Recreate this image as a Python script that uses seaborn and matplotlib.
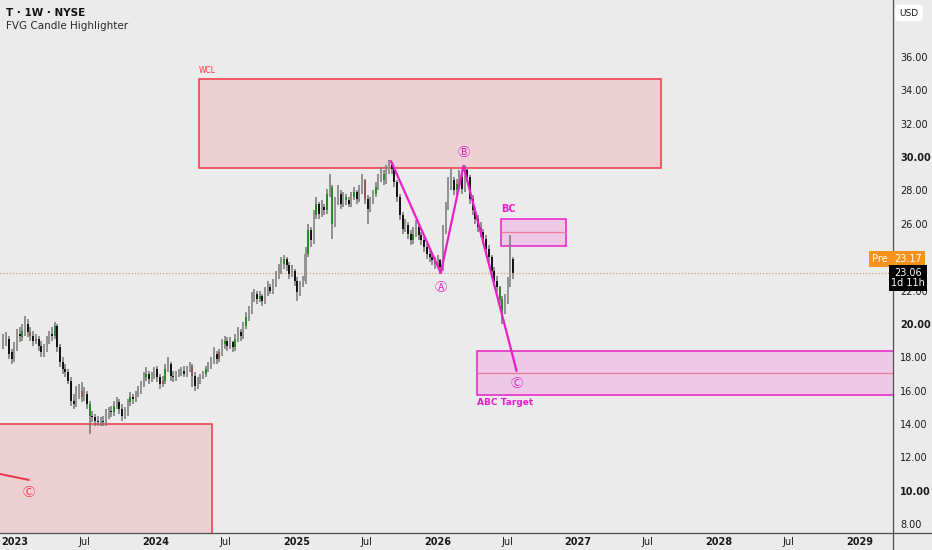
import numpy as np
import pandas as pd
import matplotlib
matplotlib.use("Agg")
import matplotlib.pyplot as plt
import matplotlib.dates as mdates
from matplotlib.patches import Rectangle
import seaborn as sns

# weekly candles, T 1W
start_week = "2022-12-02"
opens = [18.8, 19.0, 19.1, 18.3, 17.9, 18.6, 19.4, 19.2, 19.6, 20.0,
         19.5, 19.3, 19.0, 19.1, 18.7, 18.3, 18.5, 19.0, 19.4, 19.3,
         19.9, 18.6, 17.7, 17.3, 17.1, 16.6, 15.4, 15.2, 15.8, 16.0,
         15.6, 15.8, 15.2, 14.5, 14.4, 14.2, 14.1, 14.2, 14.1, 14.5,
         14.8, 14.7, 15.1, 15.3, 14.9, 14.5, 14.7, 15.3, 15.6, 15.5,
         15.8, 16.0, 16.4, 16.8, 17.0, 16.7, 16.9, 17.3, 16.8, 16.4,
         16.6, 17.3, 17.6, 16.9, 16.8, 17.0, 17.1, 17.2, 17.0, 17.3,
         17.5, 16.9, 16.3, 16.6, 16.9, 17.0, 17.3, 17.5, 17.8, 18.2,
         17.9, 18.3, 18.8, 19.0, 18.7, 18.9, 18.6, 19.1, 19.5, 19.3,
         19.9, 20.4, 20.8, 21.6, 21.8, 21.5, 21.7, 21.4, 21.9, 22.2,
         22.0, 22.4, 22.9, 23.2, 23.6, 23.9, 23.5, 23.0, 23.2, 22.6,
         21.9, 22.4, 22.6, 24.2, 25.6, 25.0, 26.5, 27.2, 26.6, 27.0,
         26.8, 27.8, 28.2, 26.0, 27.3, 27.8, 27.2, 27.6, 27.4, 27.2,
         27.6, 27.9, 27.5, 28.0, 28.6, 27.5, 26.9, 27.4, 27.8, 28.2,
         28.7, 29.0, 28.6, 29.2, 29.5, 29.3, 28.5, 27.6, 26.5, 25.7,
         25.9, 25.4, 25.0, 25.4, 25.8, 25.3, 25.0, 24.6, 24.2, 24.0,
         23.8, 23.6, 23.8, 23.4, 25.6, 27.0, 28.3, 28.6, 28.0, 28.4,
         28.8, 28.1, 29.2, 28.8, 27.5, 26.8, 26.3, 25.8, 25.5, 25.1,
         24.5, 24.0, 23.2, 22.6, 22.2, 21.5, 20.8, 21.4, 22.4, 23.9]
highs = [19.4, 19.5, 19.3, 18.5, 18.9, 19.7, 19.8, 20.0, 20.5, 20.3,
         19.8, 19.6, 19.4, 19.3, 19.0, 18.8, 19.3, 19.6, 19.8, 20.1,
         20.0, 18.8, 18.0, 17.6, 17.3, 16.8, 15.8, 16.3, 16.4, 16.5,
         16.2, 16.0, 15.4, 14.8, 14.6, 14.5, 14.4, 14.5, 14.9, 15.0,
         15.1, 15.4, 15.6, 15.5, 15.2, 15.0, 15.5, 15.9, 15.8, 16.0,
         16.3, 16.6, 17.1, 17.4, 17.2, 17.1, 17.4, 17.5, 17.0, 16.9,
         17.6, 18.0, 17.7, 17.2, 17.2, 17.3, 17.4, 17.5, 17.5, 17.7,
         17.6, 17.1, 16.8, 17.0, 17.2, 17.5, 17.7, 18.0, 18.6, 18.4,
         18.5, 19.1, 19.3, 19.2, 19.2, 19.0, 19.4, 19.8, 19.7, 20.1,
         20.7, 21.1, 21.9, 22.1, 22.0, 22.0, 21.8, 22.2, 22.6, 22.4,
         22.7, 23.2, 23.6, 24.0, 24.1, 24.0, 23.7, 23.5, 23.3, 22.8,
         22.6, 22.9, 24.6, 26.0, 25.8, 26.8, 27.6, 27.3, 27.4, 27.2,
         28.1, 29.0, 28.3, 27.6, 28.3, 28.0, 27.9, 27.8, 27.6, 27.9,
         28.2, 28.0, 28.3, 29.0, 28.7, 27.7, 27.6, 28.0, 28.5, 29.0,
         29.4, 29.2, 29.5, 29.8, 29.7, 29.4, 28.6, 27.8, 26.7, 26.3,
         26.1, 25.6, 25.8, 26.2, 26.0, 25.5, 25.2, 24.8, 24.4, 24.2,
         24.0, 24.1, 23.9, 25.9, 27.3, 28.8, 29.3, 28.8, 28.7, 29.2,
         28.9, 29.5, 29.3, 28.9, 27.7, 27.0, 26.5, 26.1, 25.7, 25.3,
         24.7, 24.1, 23.4, 22.9, 22.3, 21.7, 21.8, 22.8, 25.3, 24.0]
lows = [18.5, 18.7, 17.9, 17.6, 17.7, 18.4, 18.9, 19.0, 19.3, 19.2,
        19.0, 18.7, 18.8, 18.4, 18.0, 18.0, 18.3, 18.8, 19.0, 19.1,
        18.3, 17.4, 17.0, 16.8, 16.4, 15.1, 14.9, 15.0, 15.5, 15.3,
        15.4, 14.9, 13.4, 14.1, 13.9, 13.9, 13.9, 13.9, 13.9, 14.3,
        14.4, 14.5, 14.9, 14.6, 14.2, 14.3, 14.5, 15.1, 15.2, 15.3,
        15.6, 15.8, 16.2, 16.6, 16.4, 16.5, 16.7, 16.5, 16.1, 16.2,
        16.4, 17.1, 16.6, 16.5, 16.6, 16.8, 16.9, 16.8, 16.8, 17.1,
        16.2, 16.0, 16.1, 16.4, 16.7, 16.8, 17.1, 17.3, 17.6, 17.6,
        17.7, 18.1, 18.5, 18.4, 18.5, 18.3, 18.4, 18.9, 19.0, 19.1,
        19.7, 20.2, 20.6, 21.3, 21.2, 21.3, 21.1, 21.2, 21.7, 21.8,
        21.8, 22.2, 22.7, 23.0, 23.3, 23.2, 22.7, 22.8, 22.3, 21.4,
        21.7, 22.2, 22.4, 24.0, 24.6, 24.8, 26.3, 26.3, 26.4, 26.5,
        26.6, 27.6, 25.1, 25.8, 27.1, 26.9, 27.0, 27.1, 27.0, 27.0,
        27.4, 27.2, 27.3, 27.8, 27.2, 26.0, 26.7, 27.2, 27.6, 28.0,
        28.5, 28.3, 28.4, 29.0, 29.0, 28.2, 27.3, 26.2, 25.4, 25.5,
        25.1, 24.7, 24.8, 25.2, 25.0, 24.7, 24.3, 23.9, 23.7, 23.5,
        23.3, 23.4, 23.0, 23.2, 25.4, 26.8, 28.0, 27.7, 27.8, 28.2,
        27.8, 27.9, 28.5, 27.2, 26.5, 26.0, 25.5, 25.2, 24.8, 24.2,
        23.7, 22.9, 22.3, 21.9, 21.2, 20.0, 20.6, 21.2, 22.2, 22.7]
closes = [19.0, 19.1, 18.2, 17.9, 18.6, 19.4, 19.3, 19.6, 20.0, 19.5,
          19.3, 19.0, 19.1, 18.7, 18.3, 18.5, 19.0, 19.4, 19.3, 19.9,
          18.6, 17.7, 17.3, 17.1, 16.6, 15.4, 15.2, 15.8, 16.0, 15.6,
          15.8, 15.2, 14.5, 14.4, 14.2, 14.1, 14.2, 14.1, 14.5, 14.8,
          14.7, 15.1, 15.3, 14.9, 14.5, 14.7, 15.3, 15.6, 15.5, 15.8,
          16.0, 16.4, 16.8, 17.0, 16.7, 16.9, 17.3, 16.8, 16.4, 16.6,
          17.3, 17.6, 16.9, 16.8, 17.0, 17.1, 17.2, 17.0, 17.3, 17.5,
          16.9, 16.3, 16.6, 16.9, 17.0, 17.3, 17.5, 17.8, 18.2, 17.9,
          18.3, 18.8, 19.0, 18.7, 18.9, 18.6, 19.1, 19.5, 19.3, 19.9,
          20.4, 20.8, 21.6, 21.8, 21.5, 21.7, 21.4, 21.9, 22.2, 22.0,
          22.4, 22.9, 23.2, 23.6, 23.9, 23.5, 23.0, 23.2, 22.6, 21.9,
          22.4, 22.6, 24.2, 25.6, 25.0, 26.5, 27.2, 26.6, 27.0, 26.8,
          27.8, 28.2, 26.0, 27.3, 27.8, 27.2, 27.6, 27.4, 27.2, 27.6,
          27.9, 27.5, 28.0, 28.6, 27.5, 26.9, 27.4, 27.8, 28.2, 28.7,
          29.0, 28.6, 29.2, 29.5, 29.3, 28.5, 27.6, 26.5, 25.7, 25.9,
          25.4, 25.0, 25.4, 25.8, 25.3, 25.0, 24.6, 24.2, 24.0, 23.8,
          23.6, 23.8, 23.4, 25.6, 27.0, 28.3, 28.6, 28.0, 28.4, 28.8,
          28.1, 29.2, 28.8, 27.5, 26.8, 26.3, 25.8, 25.5, 25.1, 24.5,
          24.0, 23.2, 22.6, 22.2, 21.5, 20.8, 21.4, 22.4, 23.9, 23.06]
# candles the FVG highlighter colours
fvg_green = [7, 19, 32, 41, 47, 53, 60, 75, 82, 86, 90, 95, 104, 113, 116,
             120, 122, 127, 130, 138, 141, 152, 168, 184, 185]
fvg_red = [10, 12, 29, 59, 70, 80, 134, 160, 177]

# drawings
wcl_box = ("2024-04-22", "2027-08-04", 29.35, 34.68)
low_box = ("2022-06-01", "2024-05-26", 5.0, 14.0)
old_c_line_dates = ["2022-10-01", "2023-02-06"]
old_c_line_prices = [11.25, 10.64]
abc_dates = ["2025-09-03", "2026-01-10", "2026-03-10", "2026-07-26"]
abc_prices = [29.76, 23.05, 29.47, 17.17]
abc_labels = ["Ⓐ", "Ⓑ", "Ⓒ"]
abc_label_prices = [22.2, 30.25, 16.4]
bc_box = ("2026-06-16", "2026-12-01", 24.67, 26.29, 25.5)
target_box = ("2026-04-14", "2030-01-01", 15.74, 18.37, 17.06)
last_price = 23.06
price_ticks = [8, 10, 12, 14, 16, 18, 20, 22, 26, 28, 30, 32, 34, 36]

bg = "#ebebeb"
red = "#f23645"
mag = "#e91ec8"
circ_font = ["Noto Sans CJK JP", "DejaVu Sans"]

sns.set_theme(style="white")
plt.rcParams["font.family"] = ["DejaVu Sans", "Noto Sans CJK JP"]

fig = plt.figure(figsize=(9.32, 5.5), dpi=100, facecolor=bg)
ax = fig.add_axes([0, 17 / 550, 893 / 932, 533 / 550])
ax.set_facecolor(bg)

dates = pd.date_range(start_week, periods=len(closes), freq="7D")
d = pd.DataFrame({"date": dates, "o": opens, "h": highs, "l": lows, "c": closes})
d["bottom"] = d[["o", "c"]].min(axis=1)
d["height"] = (d["c"] - d["o"]).abs().clip(lower=0.08)
cols = np.where(d["c"] >= d["o"], "#959595", "#141414")
for i in fvg_green:
    cols[i] = "#2a8a2a"
for i in fvg_red:
    cols[i] = "#8e5b5b"

# boxes
def box(a, b, lo, hi, fc, ec, lw=1.0):
    x0 = mdates.date2num(pd.Timestamp(a))
    x1 = mdates.date2num(pd.Timestamp(b))
    ax.add_patch(Rectangle((x0, lo), x1 - x0, hi - lo, facecolor=fc,
                           edgecolor=ec, lw=lw, zorder=1))

box(*wcl_box, "#ecd0d4", red, 1.1)
box(*low_box, "#ecd0d4", red, 1.1)
box(*bc_box[:4], "#ecc9e6", mag, 1.1)
ax.hlines(bc_box[4], pd.Timestamp(bc_box[0]), pd.Timestamp(bc_box[1]),
          color="#f0789a", lw=0.9, zorder=1.5)
box(*target_box[:4], "#ecc9e6", mag, 1.1)
ax.hlines(target_box[4], pd.Timestamp(target_box[0]), pd.Timestamp(target_box[1]),
          color="#f0789a", lw=0.9, zorder=1.5)

# dotted last price line
ax.axhline(last_price, color="#d8a070", lw=0.9, ls=(0, (1, 1.5)), zorder=1.6)

# candles
ax.vlines(d["date"], d["l"], d["h"], color="#767676", lw=1.1, zorder=2)
ax.bar(d["date"], d["height"], bottom=d["bottom"], width=5.2, color=cols,
       edgecolor="none", linewidth=0, zorder=3)

# wave lines
sns.lineplot(x=pd.to_datetime(old_c_line_dates), y=old_c_line_prices, ax=ax,
             color=red, lw=1.4, sort=False, zorder=4)
sns.lineplot(x=pd.to_datetime(abc_dates), y=abc_prices, ax=ax,
             color=mag, lw=1.6, sort=False, zorder=4)

for lab, dt, p in zip(abc_labels, abc_dates[1:], abc_label_prices):
    ax.text(pd.Timestamp(dt), p, lab, color=mag, fontsize=9, family=circ_font,
            ha="center", va="center", zorder=5)
ax.text(pd.Timestamp("2023-02-06"), 9.86, "Ⓒ", color=red, fontsize=9,
        family=circ_font, ha="center", va="center", zorder=5)

ax.text(pd.Timestamp(wcl_box[0]), wcl_box[3] + 0.25, "WCL", color=red,
        fontsize=5.5, ha="left", va="bottom")
ax.text(pd.Timestamp(bc_box[0]), bc_box[3] + 0.3, "BC", color=mag,
        fontsize=7, fontweight="bold", ha="left", va="bottom")
ax.text(pd.Timestamp(target_box[0]), target_box[2] - 0.2, "ABC Target",
        color=mag, fontsize=6.5, ha="left", va="top", fontweight="bold")

# axes
ax.set_xlim(pd.Timestamp("2022-11-23"), pd.Timestamp("2029-03-29"))
ax.set_ylim(7.46, 39.42)
ax.set_xlabel("")
ax.set_ylabel("")

xt = []
xl = []
for yr in range(2023, 2030):
    xt.append(pd.Timestamp(f"{yr}-01-01"))
    xl.append(str(yr))
    if yr < 2029:
        xt.append(pd.Timestamp(f"{yr}-07-01"))
        xl.append("Jul")
ax.set_xticks(xt)
ax.set_xticklabels(xl, fontsize=7, color="#1a1a1a")
for t in ax.get_xticklabels():
    if t.get_text() != "Jul":
        t.set_fontweight("bold")

ax.yaxis.tick_right()
ax.set_yticks(price_ticks)
ax.set_yticklabels([f"{v:.2f}" for v in price_ticks], fontsize=7, color="#1a1a1a")
for t, v in zip(ax.get_yticklabels(), price_ticks):
    if v % 10 == 0:
        t.set_fontweight("bold")
ax.tick_params(axis="x", length=0, pad=3)
ax.tick_params(axis="y", length=0, pad=5)

for s in ["top", "left"]:
    ax.spines[s].set_visible(False)
for s in ["right", "bottom"]:
    ax.spines[s].set_color("#505050")
    ax.spines[s].set_linewidth(0.9)
fig.add_artist(plt.Line2D([893 / 932, 1], [17 / 550, 17 / 550],
                          transform=fig.transFigure, color="#505050", lw=0.9))
fig.add_artist(plt.Line2D([893 / 932, 893 / 932], [0, 17 / 550],
                          transform=fig.transFigure, color="#505050", lw=0.9))

# price tags on the scale (stacked like the platform does)
fig.text(880 / 932, 1 - 259 / 550, "Pre", color="white", fontsize=7,
         ha="center", va="center", zorder=10,
         bbox=dict(boxstyle="square,pad=0.3", fc="#f7931a", ec="none"))
fig.text(908 / 932, 1 - 259 / 550, "23.17", color="white", fontsize=7,
         ha="center", va="center", zorder=10,
         bbox=dict(boxstyle="square,pad=0.3", fc="#f7931a", ec="none"))
fig.text(908 / 932, 1 - 278 / 550, "23.06\n1d 11h", color="white",
         fontsize=7, ha="center", va="center", zorder=10, linespacing=1.05,
         bbox=dict(boxstyle="square,pad=0.25", fc="black", ec="none"))

fig.text(909 / 932, 1 - 13 / 550, "USD", fontsize=6.5, color="#1a1a1a",
         ha="center", va="center",
         bbox=dict(boxstyle="round,pad=0.45", fc="white", ec="none"))

fig.text(6 / 932, 1 - 13 / 550, "T · 1W · NYSE", fontsize=7.5,
         fontweight="bold", color="#131313", ha="left", va="center")
fig.text(6 / 932, 1 - 26 / 550, "FVG Candle Highlighter", fontsize=7.5,
         color="#2a2a2a", ha="left", va="center")

fig.savefig("out.png", dpi=100, facecolor=bg)
